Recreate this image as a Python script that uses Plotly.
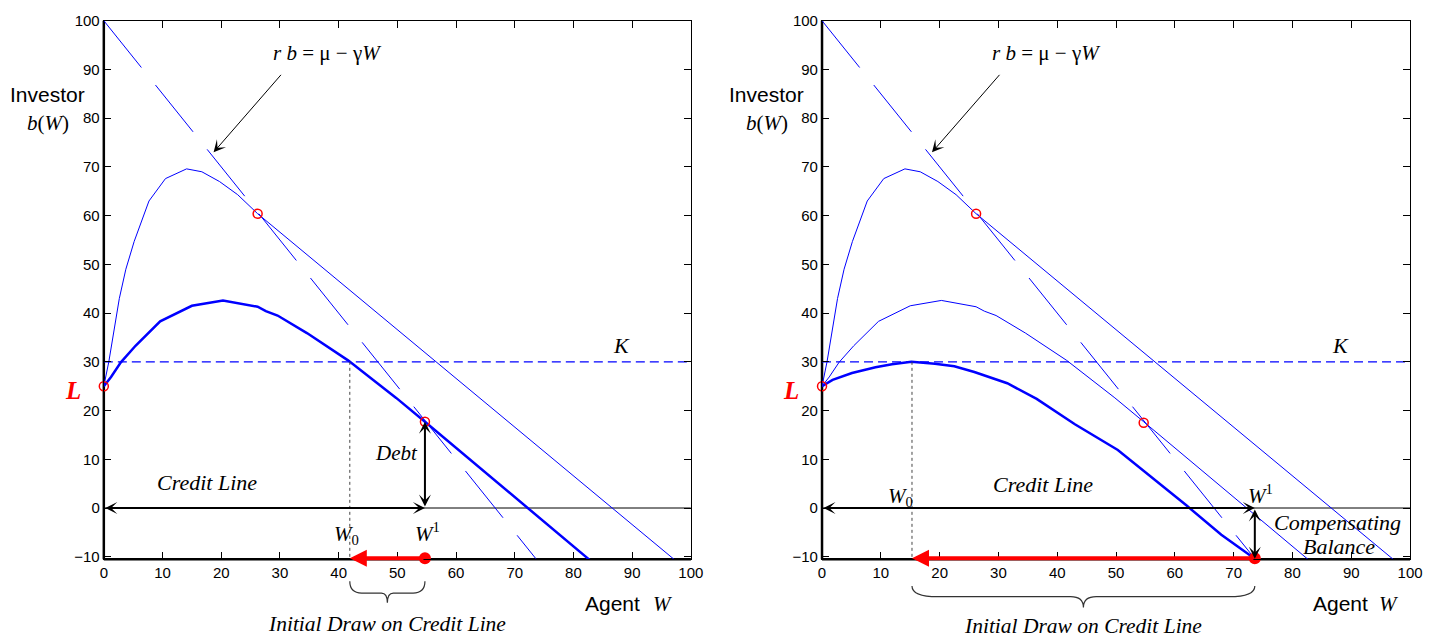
import plotly.graph_objects as go

# ---------------- data ----------------
x_ticks = [0, 10, 20, 30, 40, 50, 60, 70, 80, 90, 100]
y_ticks = [-10, 0, 10, 20, 30, 40, 50, 60, 70, 80, 90, 100]

# upper (first-best) value curve, ends in the tangent line of slope -1
W_upper = [0, 0.85, 2.64, 3.75, 5.17, 7.69, 10.5, 14.1, 16.7, 19.7, 22.8, 26.2, 97.2]
b_upper = [25, 30.0, 43.0, 49.0, 54.7, 63.0, 67.6, 69.6, 69.0, 67.0, 64.3, 60.4, -10.6]

# middle value curve (thick in left panel, thin in right panel)
W_mid = [0, 1.23, 2.9, 5.4, 9.6, 15.0, 20.3, 26.2, 27.6, 29.6, 34.6, 41.6, 49.8, 54.7, 82.9]
b_mid = [25, 26.9, 29.9, 33.3, 38.3, 41.5, 42.6, 41.3, 40.4, 39.5, 35.9, 30.3, 22.6, 17.7, -10.8]

# lower value curve (right panel)
W_low = [0, 1.8, 5.1, 9.1, 11.9, 15.2, 19.2, 22.5, 25.9, 31.5, 36.5, 43.0, 50.3, 54.7, 62.0, 67.9, 73.6]
b_low = [25, 26.3, 27.7, 28.9, 29.5, 30.0, 29.6, 29.1, 27.9, 25.6, 22.4, 17.2, 11.9, 7.6, 0.5, -5.5, -10.4]

# line r b = mu - gamma W (end points)
W_ray = [0, 73.6]
b_ray = [100, -10.4]

K_level = 30
L_level = 25

# tangency points (red circles)
W_circ_left = [0, 26.2, 54.7]
b_circ_left = [25, 60.4, 17.7]
W_circ_right = [0, 26.2, 54.7]
b_circ_right = [25, 60.4, 17.5]

# W0 / W1 for each panel
W0_left, W1_left, bW1_left = 41.9, 54.7, 17.7
W0_right, W1_right, bW1_right = 15.3, 73.6, -10.4

# ---------------- layout / style constants ----------------
FIG_W, FIG_H = 1454, 644
SERIF = "Liberation Serif, Times New Roman, serif"
SANS = "Liberation Sans, Arial, sans-serif"
BLUE = "#0000ff"
RED = "#ff0000"
Y_MIN, Y_MAX = -10.5, 100
Y_TOP_PX, Y_BOT_PX = 12, 563.3
YDOM = [1 - Y_BOT_PX / FIG_H, 1 - Y_TOP_PX / FIG_H]
XDOM_PX = [(101, 695), (827.7, 1422.7)]
RED_Y = -10.3
RAY_DASH, RAY_GAP = 6.4, 2.4  # long-dash pattern of the ray, in W units


def px(x):
    return x / FIG_W


def py(y):
    return 1 - y / FIG_H


def dashed_segments(xs, ys, dash, gap):
    """Split the straight line xs/ys into dash pieces (None separated)."""
    (xa, xb), (ya, yb) = xs, ys
    out_x, out_y = [], []
    s = xa
    while s < xb:
        e = min(s + dash, xb)
        for w in (s, e):
            out_x.append(w)
            out_y.append(ya + (yb - ya) * (w - xa) / (xb - xa))
        out_x.append(None)
        out_y.append(None)
        s += dash + gap
    return out_x, out_y


fig = go.Figure()
annotations = []
shapes = []

panels = [
    dict(xa="x", ya="y", W0=W0_left, W1=W1_left, bW1=bW1_left, mid_w=2.5, low=False,
         circ=(W_circ_left, b_circ_left)),
    dict(xa="x2", ya="y2", W0=W0_right, W1=W1_right, bW1=bW1_right, mid_w=1.0, low=True,
         circ=(W_circ_right, b_circ_right)),
]


def txt(p, x, y, text, size=20, family=SERIF, color="black", xanchor="center"):
    return dict(xref=p["xa"], yref=p["ya"], x=x, y=y, text=text, showarrow=False,
                font=dict(family=family, size=size, color=color),
                xanchor=xanchor, yanchor="middle")


def ptxt(x, y, text, size=20, family=SERIF, color="black", xanchor="center"):
    return dict(xref="paper", yref="paper", x=px(x), y=py(y), text=text, showarrow=False,
                font=dict(family=family, size=size, color=color),
                xanchor=xanchor, yanchor="middle")


def arrow(p, x0, y0, x1, y1, color="black", width=2, head=3, size=1.0, both=False):
    return dict(xref=p["xa"], yref=p["ya"], axref=p["xa"], ayref=p["ya"],
                x=x1, y=y1, ax=x0, ay=y0, text="", showarrow=True,
                arrowhead=head, arrowsize=size, arrowwidth=width, arrowcolor=color,
                arrowside="end+start" if both else "end",
                startarrowhead=head, startarrowsize=size, standoff=0, startstandoff=0)


ray_x, ray_y = dashed_segments(W_ray, b_ray, RAY_DASH, RAY_GAP)

for i, p in enumerate(panels):
    xa, ya = p["xa"], p["ya"]
    common = dict(xaxis=xa, yaxis=ya, showlegend=False, hoverinfo="skip")
    # K level dashed
    fig.add_trace(go.Scatter(x=[0, 100], y=[K_level, K_level], mode="lines",
                             line=dict(color=BLUE, width=1.2, dash="9px,5px"), **common))
    # zero line
    fig.add_trace(go.Scatter(x=[0, 100], y=[0, 0], mode="lines",
                             line=dict(color="black", width=1), **common))
    # ray r b = mu - gamma W (long dashes)
    fig.add_trace(go.Scatter(x=ray_x, y=ray_y, mode="lines", connectgaps=False,
                             line=dict(color=BLUE, width=1), **common))
    # upper curve
    fig.add_trace(go.Scatter(x=W_upper, y=b_upper, mode="lines",
                             line=dict(color=BLUE, width=1), **common))
    # middle curve
    fig.add_trace(go.Scatter(x=W_mid, y=b_mid, mode="lines",
                             line=dict(color=BLUE, width=p["mid_w"]), **common))
    if p["low"]:
        fig.add_trace(go.Scatter(x=W_low, y=b_low, mode="lines",
                                 line=dict(color=BLUE, width=2.5), **common))
    # vertical dashed at W0
    fig.add_trace(go.Scatter(x=[p["W0"], p["W0"]], y=[K_level, Y_MIN], mode="lines",
                             line=dict(color="#444444", width=1, dash="3px,3px"), **common))
    # red circles
    cw, cb = p["circ"]
    fig.add_trace(go.Scatter(x=cw, y=cb, mode="markers", cliponaxis=False,
                             marker=dict(symbol="circle-open", size=9, color=RED,
                                         line=dict(width=1.5, color=RED)), **common))
    # red arrow (initial draw) + red dot at W1 on bottom axis
    fig.add_trace(go.Scatter(x=[p["W1"]], y=[RED_Y], mode="markers", cliponaxis=False,
                             marker=dict(symbol="circle", size=12, color=RED,
                                         line=dict(width=0, color=RED)), **common))
    annotations.append(arrow(p, p["W1"], RED_Y, p["W0"], RED_Y, color=RED, width=4, head=2, size=0.85))

    # black arrows
    annotations.append(arrow(p, 0, 0, p["W1"], 0, both=True))
    annotations.append(arrow(p, p["W1"], 0, p["W1"], p["bW1"], both=True))
    annotations.append(arrow(p, 30.4, 89.2, 18.7, 73.0, width=1, head=3, size=2.0))
    annotations.append(txt(p, 38.1, 93.4, "<i>r b</i> = μ − γ<i>W</i>", size=21))
    annotations.append(txt(p, 88.1, 33.3, "<i>K</i>", size=22))

    x0p, x1p = XDOM_PX[i]
    # thick left & bottom axis lines
    shapes.append(dict(type="line", xref="paper", yref="paper", x0=px(x0p), x1=px(x0p),
                       y0=YDOM[0], y1=YDOM[1], layer="below",
                       line=dict(color="black", width=2.5)))
    shapes.append(dict(type="line", xref="paper", yref="paper", x0=px(x0p), x1=px(x1p),
                       y0=YDOM[0], y1=YDOM[0], layer="below",
                       line=dict(color="black", width=2.5)))

    # brace under the initial draw
    if i == 0:
        ytop, ymid, ytip, r_end, r_mid = 586, 598, 608, 12, 6
        lab_y, agent_x, w_x, inv_x, L_x = 630, 616, 667, 44.5, 69.7
    else:
        ytop, ymid, ytip, r_end, r_mid = 590.7, 601.7, 612.7, 26, 13
        lab_y, agent_x, w_x, inv_x, L_x = 631.7, 1352, 1401, 771.7, 796.5
    scale = (x1p - x0p) / 100.0
    a, c = p["W0"], p["W1"]
    m = (a + c) / 2
    de, dm = r_end / scale, r_mid / scale
    path = (f"M{a},{py(ytop)} Q{a},{py(ymid)} {a + de},{py(ymid)} "
            f"L{m - dm},{py(ymid)} Q{m},{py(ymid)} {m},{py(ytip)} "
            f"Q{m},{py(ymid)} {m + dm},{py(ymid)} "
            f"L{c - de},{py(ymid)} Q{c},{py(ymid)} {c},{py(ytop)}")
    shapes.append(dict(type="path", xref=xa, yref="paper", path=path,
                       line=dict(color="#333333", width=1.2)))

    annotations.append(ptxt((a + c) / 2 * scale + x0p, lab_y, "<i>Initial Draw on Credit Line</i>", size=21.5))
    annotations.append(ptxt(agent_x, 609, "Agent", size=21, family=SANS))
    annotations.append(ptxt(w_x, 609, "<i>W</i>", size=21))
    annotations.append(ptxt(inv_x, 87.3, "Investor", size=21, family=SANS))
    annotations.append(ptxt(inv_x, 117, "<i>b</i>(<i>W</i>)", size=21))
    annotations.append(ptxt(L_x, 391, "<b><i>L</i></b>", size=25, color=RED))

# panel-specific labels
pl, pr = panels
annotations.append(txt(pl, 17.5, 5.2, "<i>Credit Line</i>", size=22))
annotations.append(txt(pl, 49.9, 11.2, "<i>Debt</i>", size=21))
annotations.append(txt(pl, 41.4, -5.5, "<i>W</i><sub>0</sub>", size=21))
annotations.append(txt(pl, 55.1, -5.0, "<i>W</i><sup>1</sup>", size=21))

annotations.append(txt(pr, 37.6, 4.9, "<i>Credit Line</i>", size=22))
annotations.append(txt(pr, 13.3, 2.3, "<i>W</i><sub>0</sub>", size=21))
annotations.append(txt(pr, 74.6, 2.8, "<i>W</i><sup>1</sup>", size=21))
annotations.append(txt(pr, 87.6, -3.0, "<i>Compensating</i>", size=22))
annotations.append(txt(pr, 87.9, -7.95, "<i>Balance</i>", size=22))

axis_common = dict(range=[0, 100], tickvals=x_ticks, ticks="inside", ticklen=7, tickwidth=1,
                   tickcolor="black", showline=True, linecolor="black", linewidth=1.2,
                   mirror="ticks", showgrid=False, zeroline=False,
                   tickfont=dict(family=SANS, size=15, color="black"), fixedrange=True)
yaxis_common = dict(axis_common, range=[Y_MIN, Y_MAX], tickvals=y_ticks)

fig.update_layout(
    width=FIG_W, height=FIG_H,
    margin=dict(l=0, r=0, t=0, b=0),
    paper_bgcolor="white", plot_bgcolor="white",
    xaxis=dict(axis_common, domain=[px(XDOM_PX[0][0]), px(XDOM_PX[0][1])], anchor="y"),
    yaxis=dict(yaxis_common, domain=YDOM, anchor="x"),
    xaxis2=dict(axis_common, domain=[px(XDOM_PX[1][0]), px(XDOM_PX[1][1])], anchor="y2"),
    yaxis2=dict(yaxis_common, domain=YDOM, anchor="x2"),
    annotations=annotations,
    shapes=shapes,
)

fig.write_html("out.html", config={"displayModeBar": False})
